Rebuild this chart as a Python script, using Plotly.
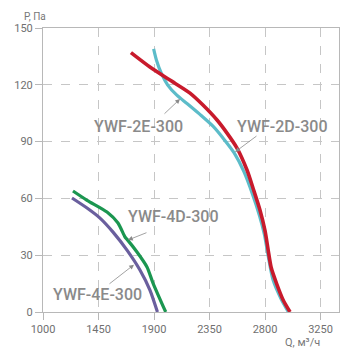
import plotly.graph_objects as go

# Data (Q, m3/h ; P, Pa)
red_q = [1713, 1867, 2029, 2192, 2297, 2411, 2492, 2573, 2654, 2705, 2759, 2800, 2825, 2850, 2897, 2946, 3003]
red_p = [137, 129.4, 122.5, 115.6, 109.3, 101.4, 94.5, 86.6, 75.0, 65.0, 53.9, 43, 33, 23.5, 14.5, 6.5, 0]

cyan_q = [1897, 1920, 1960, 2010, 2085, 2170, 2270, 2380, 2470, 2550, 2630, 2700, 2755, 2795, 2825, 2865, 2930, 2990]
cyan_p = [139, 133, 126, 120, 114.5, 110, 104.5, 98, 91, 84, 74, 62, 51, 41, 30, 17, 7, 0]

green_q = [1243, 1357, 1519, 1608, 1665, 1680, 1762, 1843, 1892, 1995]
green_p = [63.9, 59, 52.8, 47, 39.6, 38.5, 31.7, 23.8, 15.3, 0]

purple_q = [1235, 1357, 1462, 1568, 1681, 1786, 1867, 1928]
purple_p = [60.2, 54.9, 49.6, 42.2, 32.7, 22.2, 11.6, 0]

labels = ["YWF-2E-300", "YWF-2D-300", "YWF-4D-300", "YWF-4E-300"]
label_q = [1778, 2938, 2062, 1438]
label_p = [98.2, 98.2, 50.2, 9.5]
arrow_tail_q = [1973, 2743, 1851, 1527]
arrow_tail_p = [104, 93.5, 42.2, 14.3]
arrow_head_q = [2111, 2557, 1689, 1738]
arrow_head_p = [112.5, 84.5, 38, 25]

x_ticks = [1000, 1450, 1900, 2350, 2800, 3250]
y_ticks = [0, 30, 60, 90, 120, 150]

fig = go.Figure()
fig.add_trace(go.Scatter(x=cyan_q, y=cyan_p, mode="lines", line=dict(color="#5cbcc9", width=3.2, shape="spline", smoothing=0.7)))
fig.add_trace(go.Scatter(x=red_q, y=red_p, mode="lines", line=dict(color="#c81a2c", width=3.6, shape="spline", smoothing=0.7)))
fig.add_trace(go.Scatter(x=purple_q, y=purple_p, mode="lines", line=dict(color="#6a5f9e", width=3.2, shape="spline", smoothing=0.7)))
fig.add_trace(go.Scatter(x=green_q, y=green_p, mode="lines", line=dict(color="#1b9650", width=3.2, shape="spline", smoothing=0.7)))

for t, lq, lp in zip(labels, label_q, label_p):
    fig.add_annotation(x=lq, y=lp, text=t, showarrow=False,
                       font=dict(family="Roboto", size=16, color="#8a8a8a", weight=500))
for tq, tp, hq, hp in zip(arrow_tail_q, arrow_tail_p, arrow_head_q, arrow_head_p):
    fig.add_annotation(x=hq, y=hp, ax=tq, ay=tp, axref="x", ayref="y", text="",
                       showarrow=True, arrowhead=2, arrowsize=1.2, arrowwidth=0.8,
                       arrowcolor="#8a8a8a", standoff=0, startstandoff=0)

fig.add_annotation(xref="paper", yref="paper", x=-0.068, y=1.062, text="P, Па", showarrow=False,
                   font=dict(family="Roboto", size=10, color="#777"), borderpad=0)
fig.add_annotation(xref="paper", yref="paper", x=0.94, y=-0.135, text="Q, м³/ч", showarrow=False,
                   font=dict(family="Roboto", size=11, color="#777"), borderpad=0)

axis_common = dict(showgrid=True, gridcolor="#c6c6c6", griddash="dash", gridwidth=1,
                   showline=True, linecolor="#b8b8b8", linewidth=1, mirror=True,
                   ticks="outside", tickcolor="#b8b8b8", ticklen=7, zeroline=False,
                   tickfont=dict(family="Roboto", size=11, color="#707070"))
fig.update_xaxes(range=[1000, 3400], tickvals=x_ticks, **axis_common)
fig.update_yaxes(range=[0, 150], tickvals=y_ticks, **axis_common)

fig.update_layout(width=353, height=358, margin=dict(l=43, r=14, t=28, b=46),
                  plot_bgcolor="white", paper_bgcolor="white", showlegend=False)
fig.write_html("out.html")
